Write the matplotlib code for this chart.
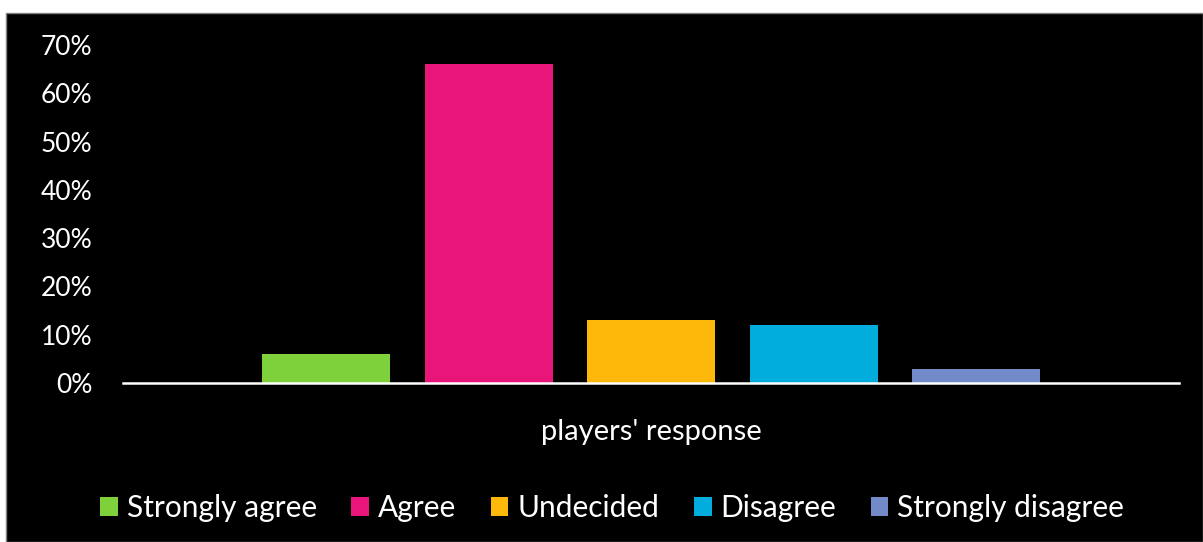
import matplotlib
matplotlib.use("Agg")
import matplotlib.pyplot as plt
from matplotlib.patches import Rectangle, Patch
from matplotlib.ticker import FuncFormatter

categories = ["players' response"]
series = ["Strongly agree", "Agree", "Undecided", "Disagree", "Strongly disagree"]
values = [0.06, 0.66, 0.13, 0.12, 0.03]
colors = ["#7FD13B", "#EA157A", "#FEB80A", "#00ADDC", "#738AC8"]
yticks = [0, 0.1, 0.2, 0.3, 0.4, 0.5, 0.6, 0.7]

plt.rcParams['font.family'] = ['Lato', 'DejaVu Sans']

W, H = 1203, 542
fig = plt.figure(figsize=(W / 100, H / 100), dpi=100, facecolor="white")
bg = Rectangle((6 / W, 0), 1 - 6 / W, (H - 13) / H, transform=fig.transFigure,
               facecolor="black", edgecolor="#808080", linewidth=1, zorder=-10)
fig.patches.append(bg)

ax = fig.add_axes([123 / W, 159 / H, (1179 - 123) / W, (383 - 45) / H])
ax.set_facecolor("none")
ax.set_zorder(5)

bar_w = 128 / 1056
step = 162.5 / 1056
n = len(series)
for i, (s, v, c) in enumerate(zip(series, values, colors)):
    x = 0 + (i - (n - 1) / 2) * step
    ax.bar(x, v, width=bar_w, color=c, label=s)

ax.set_xlim(-0.5, 0.5)
ax.set_ylim(0, 0.7)
ax.set_yticks(yticks)
ax.yaxis.set_major_formatter(FuncFormatter(lambda v, p: f"{v * 100:.0f}%"))
ax.set_xticks([])
ax.tick_params(axis='y', length=0, pad=22, labelsize=19, labelcolor="white")
for sp in ["top", "right", "left"]:
    ax.spines[sp].set_visible(False)
ax.spines["bottom"].set_color("white")
ax.spines["bottom"].set_linewidth(1.8)
ax.set_xlabel(categories[0], color="white", fontsize=21, labelpad=26)

handles = [Patch(facecolor=c, edgecolor="none") for c in colors]
leg = fig.legend(handles, series, loc="center", bbox_to_anchor=(612 / W, 34 / H), ncol=5,
                 frameon=False, fontsize=21.5, labelcolor="white", handlelength=0.6, handleheight=0.6,
                 handletextpad=0.3, columnspacing=1.15)
leg.set_zorder(6)

fig.savefig("out.png", dpi=100, facecolor=fig.get_facecolor())
